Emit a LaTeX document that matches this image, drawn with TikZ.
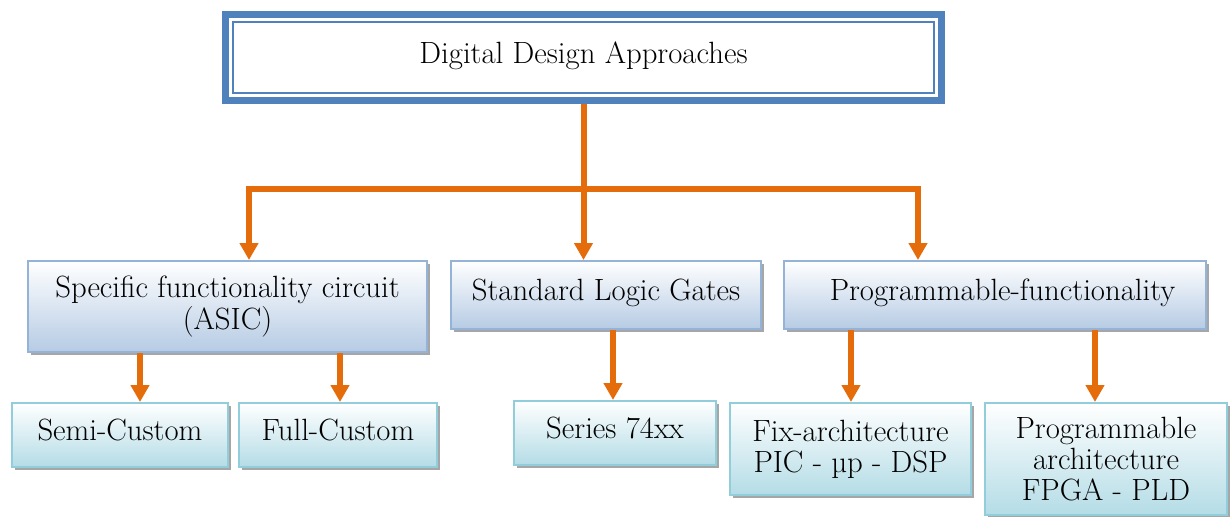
\documentclass[tikz,border=0pt]{standalone}
\usepackage{fontspec}
\usepackage{tikz}
\usetikzlibrary{arrows.meta,shadows}
\definecolor{topblue}{HTML}{4F81BD}
\definecolor{midline}{HTML}{95B3D7}
\definecolor{midfill}{HTML}{B6CBE4}
\definecolor{lowline}{HTML}{92CDDC}
\definecolor{lowfill}{HTML}{B4DCE6}
\definecolor{linkorange}{HTML}{E46C0A}
\tikzstyle{oneline}=[text height=0.44cm,text depth=0.22cm]
\tikzstyle{topbox}=[oneline,draw=topblue,line width=0.14cm,fill=white,minimum width=14.32cm,minimum height=1.72cm]
\tikzstyle{midbox}=[draw=midline,line width=0.04cm,top color=white,bottom color=midfill,align=center,anchor=north,drop shadow={shadow xshift=0.06cm,shadow yshift=-0.06cm,fill=gray!70,opacity=1}]
\tikzstyle{lowbox}=[midbox,draw=lowline,bottom color=lowfill]
\tikzstyle{link} = [draw,linkorange,line width=0.12cm]

\begin{document}
\begin{tikzpicture}[font=\fontsize{17.5}{17.8}\selectfont]
      \tikzset{edge/.style = {link,-{Triangle[width=0.36cm,length=0.34cm]}}}
      \useasboundingbox (0,0) rectangle (24.62,-10.32);
      % top
      \node[topbox] (top) at (11.67,-1.15) {Digital Design Approaches};
      \draw[topblue,line width=0.04cm] ([shift={(0.22,0.22)}]top.south west) rectangle ([shift={(-0.22,-0.22)}]top.north east);
      % second row
      \node[midbox,minimum width=7.98cm,minimum height=1.82cm] (asic) at (4.55,-5.2) {Specific functionality circuit\\(ASIC)};
      \node[midbox,oneline,minimum width=6.2cm,minimum height=1.36cm] (std) at (12.12,-5.2) {Standard Logic Gates};
      \node[midbox,oneline,minimum width=8.44cm,minimum height=1.36cm] (prog) at (19.9,-5.2) {\hspace{0.3cm}Programmable-functionality};
      % third row
      \node[lowbox,oneline,minimum width=4.32cm,minimum height=1.28cm] (semi) at (2.4,-8.04) {Semi-Custom};
      \node[lowbox,oneline,minimum width=3.96cm,minimum height=1.28cm] (full) at (6.76,-8.04) {Full-Custom};
      \node[lowbox,oneline,minimum width=4.04cm,minimum height=1.28cm] (series) at (12.3,-8.0) {Series 74xx};
      \node[lowbox,minimum width=4.82cm,minimum height=1.84cm] (fix) at (17.01,-8.04) {Fix-architecture\\PIC - µp - DSP};
      \node[lowbox,minimum width=4.84cm,minimum height=2.24cm] (parch) at (22.12,-8.04) {Programmable\\architecture\\FPGA - PLD};
      % arrows
      \path (4.98,-3.78) coordinate (ka) (18.36,-3.78) coordinate (kc);
      \path (2.8,0) coordinate (xsemi) (6.8,0) coordinate (xfull) (12.26,0) coordinate (xser) (17.02,0) coordinate (xfix) (21.9,0) coordinate (xpa);
      \draw[edge] (top.south) -- (top.south |- std.north);
      \draw[edge] (top.south |- ka) -| (ka |- asic.north);
      \draw[edge] (top.south |- kc) -| (kc |- prog.north);
      \draw[edge] (asic.south -| xsemi) -- (semi.north -| xsemi);
      \draw[edge] (asic.south -| xfull) -- (full.north -| xfull);
      \draw[edge] (std.south -| xser) -- (series.north -| xser);
      \draw[edge] (prog.south -| xfix) -- (fix.north -| xfix);
      \draw[edge] (prog.south -| xpa) -- (parch.north -| xpa);
    \end{tikzpicture}
\end{document}
